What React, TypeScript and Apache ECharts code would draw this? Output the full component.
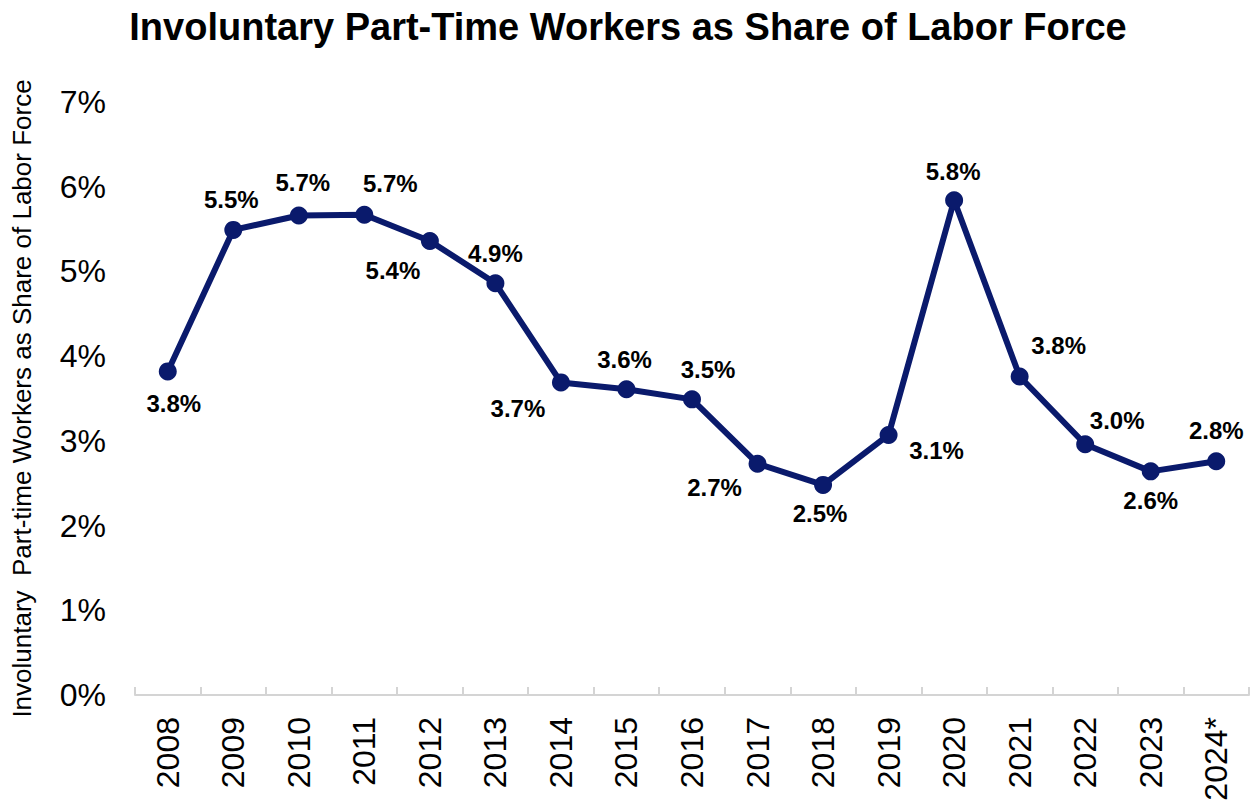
import React, { useEffect, useRef } from "react";
import * as echarts from "echarts";

const categories = ["2008", "2009", "2010", "2011", "2012", "2013", "2014", "2015", "2016", "2017", "2018", "2019", "2020", "2021", "2022", "2023", "2024*"];
const values = [3.82, 5.49, 5.66, 5.67, 5.36, 4.86, 3.69, 3.61, 3.49, 2.73, 2.48, 3.07, 5.84, 3.76, 2.96, 2.64, 2.76];
const yTicks = [0, 1, 2, 3, 4, 5, 6, 7];

// label placement offsets (layout only)
const labelOffsets: [number, number][] = [
  [6, 32], [-2, -30], [4, -33], [26, -31], [-37, 30], [0, -30], [-43, 26], [-2, -30], [16, -30],
  [-43, 24], [-3, 29], [48, 16], [-1, -29], [39, -31], [32, -24], [0, 29], [0, -31],
];

const TITLE = "Involuntary Part-Time Workers as Share of Labor Force";
const Y_NAME = "Involuntary  Part-time Workers as Share of Labor Force";
const FONT = "Liberation Sans, Arial, sans-serif";
const NAVY = "#0a1a6c";

export default function App() {
  const ref = useRef<HTMLDivElement>(null);
  useEffect(() => {
    document.body.style.margin = "0";
    if (!ref.current) return;
    const chart = echarts.init(ref.current, undefined, { renderer: "svg" });
    chart.setOption({
      animation: false,
      backgroundColor: "#ffffff",
      textStyle: { fontFamily: FONT },
      title: {
        text: TITLE,
        left: "center",
        top: 8,
        padding: 0,
        textStyle: { fontSize: 38, fontWeight: "bold", color: "#000", fontFamily: FONT },
      },
      grid: { left: 135, right: 7, top: 102, bottom: 111 },
      xAxis: {
        type: "category",
        data: categories,
        boundaryGap: true,
        axisLine: { show: true, lineStyle: { color: "#d4d4d4", width: 2 } },
        axisTick: { show: true, inside: true, length: 8, lineStyle: { color: "#d4d4d4", width: 2 } },
        axisLabel: { rotate: 90, margin: 22, fontSize: 32, color: "#000", fontFamily: FONT, interval: 0 },
        splitLine: { show: false },
      },
      yAxis: {
        type: "value",
        min: yTicks[0],
        max: yTicks[yTicks.length - 1],
        interval: 1,
        name: Y_NAME,
        nameLocation: "middle",
        nameRotate: 90,
        nameGap: 100,
        nameTextStyle: { fontSize: 26, color: "#000", fontFamily: FONT },
        axisLine: { show: false },
        axisTick: { show: false },
        splitLine: { show: false },
        axisLabel: { formatter: "{value}%", fontSize: 32, color: "#000", margin: 29, fontFamily: FONT },
      },
      series: [
        {
          type: "line",
          data: values.map((v, i) => ({
            value: v,
            label: { offset: labelOffsets[i] },
          })),
          symbol: "circle",
          symbolSize: 18,
          lineStyle: { color: NAVY, width: 6 },
          itemStyle: { color: NAVY },
          label: {
            show: true,
            position: "inside",
            formatter: (p: any) => p.value.toFixed(1) + "%",
            fontSize: 24,
            fontWeight: "bold",
            color: "#000",
            fontFamily: FONT,
          },
        },
      ],
    });
    return () => chart.dispose();
  }, []);
  return <div ref={ref} style={{ width: 1256, height: 806 }} />;
}
